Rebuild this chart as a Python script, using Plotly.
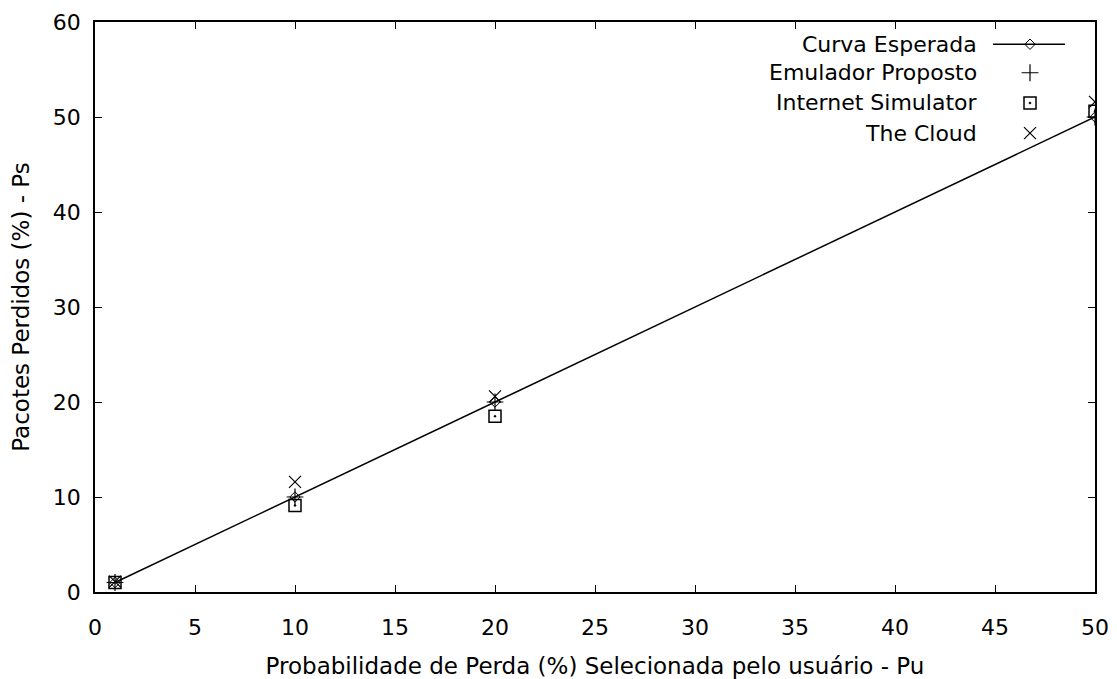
import plotly.graph_objects as go

x_vals = [1, 10, 20, 50]
curva_esperada = [1, 10, 20, 50]
emulador_proposto = [1, 10, 20, 50]
internet_simulator = [1.0, 9.1, 18.5, 50.6]
the_cloud = [1.1, 11.6, 20.6, 51.6]

x_ticks = [0, 5, 10, 15, 20, 25, 30, 35, 40, 45, 50]
y_ticks = [0, 10, 20, 30, 40, 50, 60]

legend_names = ["Curva Esperada", "Emulador Proposto", "Internet Simulator", "The Cloud"]

FONT = "DejaVu Sans"
FS = 22
fig = go.Figure()

fig.add_trace(go.Scatter(x=x_vals, y=curva_esperada, mode="lines+markers",
                         line=dict(color="black", width=1.5),
                         marker=dict(symbol="diamond-open", size=8, color="black", line=dict(width=1)),
                         showlegend=False))
fig.add_trace(go.Scatter(x=x_vals, y=emulador_proposto, mode="markers",
                         marker=dict(symbol="cross-thin-open", size=12, color="black", line=dict(width=1.2, color="black")),
                         showlegend=False))
fig.add_trace(go.Scatter(x=x_vals, y=internet_simulator, mode="markers",
                         marker=dict(symbol="square-open-dot", size=12, color="black", line=dict(width=1.5, color="black")),
                         showlegend=False))
fig.add_trace(go.Scatter(x=x_vals, y=the_cloud, mode="markers",
                         marker=dict(symbol="x-thin-open", size=12, color="black", line=dict(width=1.2, color="black")),
                         showlegend=False))

# Legend samples on an overlay axis (0..1 over the plot area)
leg_y = [0.961, 0.911, 0.858, 0.805]
sym_x = 0.935
fig.add_trace(go.Scatter(x=[0.898, 0.970], y=[leg_y[0], leg_y[0]], xaxis="x2", yaxis="y2",
                         mode="lines", line=dict(color="black", width=1.5), showlegend=False, hoverinfo="skip"))
fig.add_trace(go.Scatter(x=[sym_x], y=[leg_y[0]], xaxis="x2", yaxis="y2", mode="markers",
                         marker=dict(symbol="diamond-open", size=8, color="black"), showlegend=False, hoverinfo="skip"))
fig.add_trace(go.Scatter(x=[sym_x], y=[leg_y[1]], xaxis="x2", yaxis="y2", mode="markers",
                         marker=dict(symbol="cross-thin-open", size=12, color="black", line=dict(width=1.2, color="black")),
                         showlegend=False, hoverinfo="skip"))
fig.add_trace(go.Scatter(x=[sym_x], y=[leg_y[2]], xaxis="x2", yaxis="y2", mode="markers",
                         marker=dict(symbol="square-open-dot", size=12, color="black", line=dict(width=1.5, color="black")),
                         showlegend=False, hoverinfo="skip"))
fig.add_trace(go.Scatter(x=[sym_x], y=[leg_y[3]], xaxis="x2", yaxis="y2", mode="markers",
                         marker=dict(symbol="x-thin-open", size=12, color="black", line=dict(width=1.2, color="black")),
                         showlegend=False, hoverinfo="skip"))

annotations = []
for name, yy in zip(legend_names, leg_y):
    annotations.append(dict(x=0.882, y=yy, xref="x2", yref="y2", text=name, showarrow=False,
                            xanchor="right", yanchor="middle", xshift=2,
                            font=dict(family=FONT, size=FS, color="black")))

axis_common = dict(showline=True, linecolor="black", linewidth=1.5, mirror="allticks",
                   ticks="inside", ticklen=7, tickcolor="black", tickwidth=1.2,
                   showgrid=False, zeroline=False, automargin=False,
                   tickfont=dict(family=FONT, size=FS, color="black"))

fig.update_layout(
    width=1109, height=671,
    margin=dict(l=87, r=22, t=14, b=87),
    paper_bgcolor="white", plot_bgcolor="white",
    showlegend=False,
    xaxis=dict(range=[0, 50], tickvals=x_ticks, ticklabelstandoff=15,
               title=dict(text="Probabilidade de Perda (%) Selecionada pelo usuário - Pu",
                          font=dict(family=FONT, size=23, color="black"), standoff=24),
               **axis_common),
    yaxis=dict(range=[0, 60], tickvals=y_ticks, ticklabelstandoff=8,
               title=dict(text="Pacotes Perdidos (%) - Ps",
                          font=dict(family=FONT, size=23, color="black"), standoff=24),
               **axis_common),
    xaxis2=dict(range=[0, 1], overlaying="x", visible=False, anchor="y2"),
    yaxis2=dict(range=[0, 1], overlaying="y", visible=False, anchor="x2"),
    annotations=annotations,
)

fig.write_html("out.html")
